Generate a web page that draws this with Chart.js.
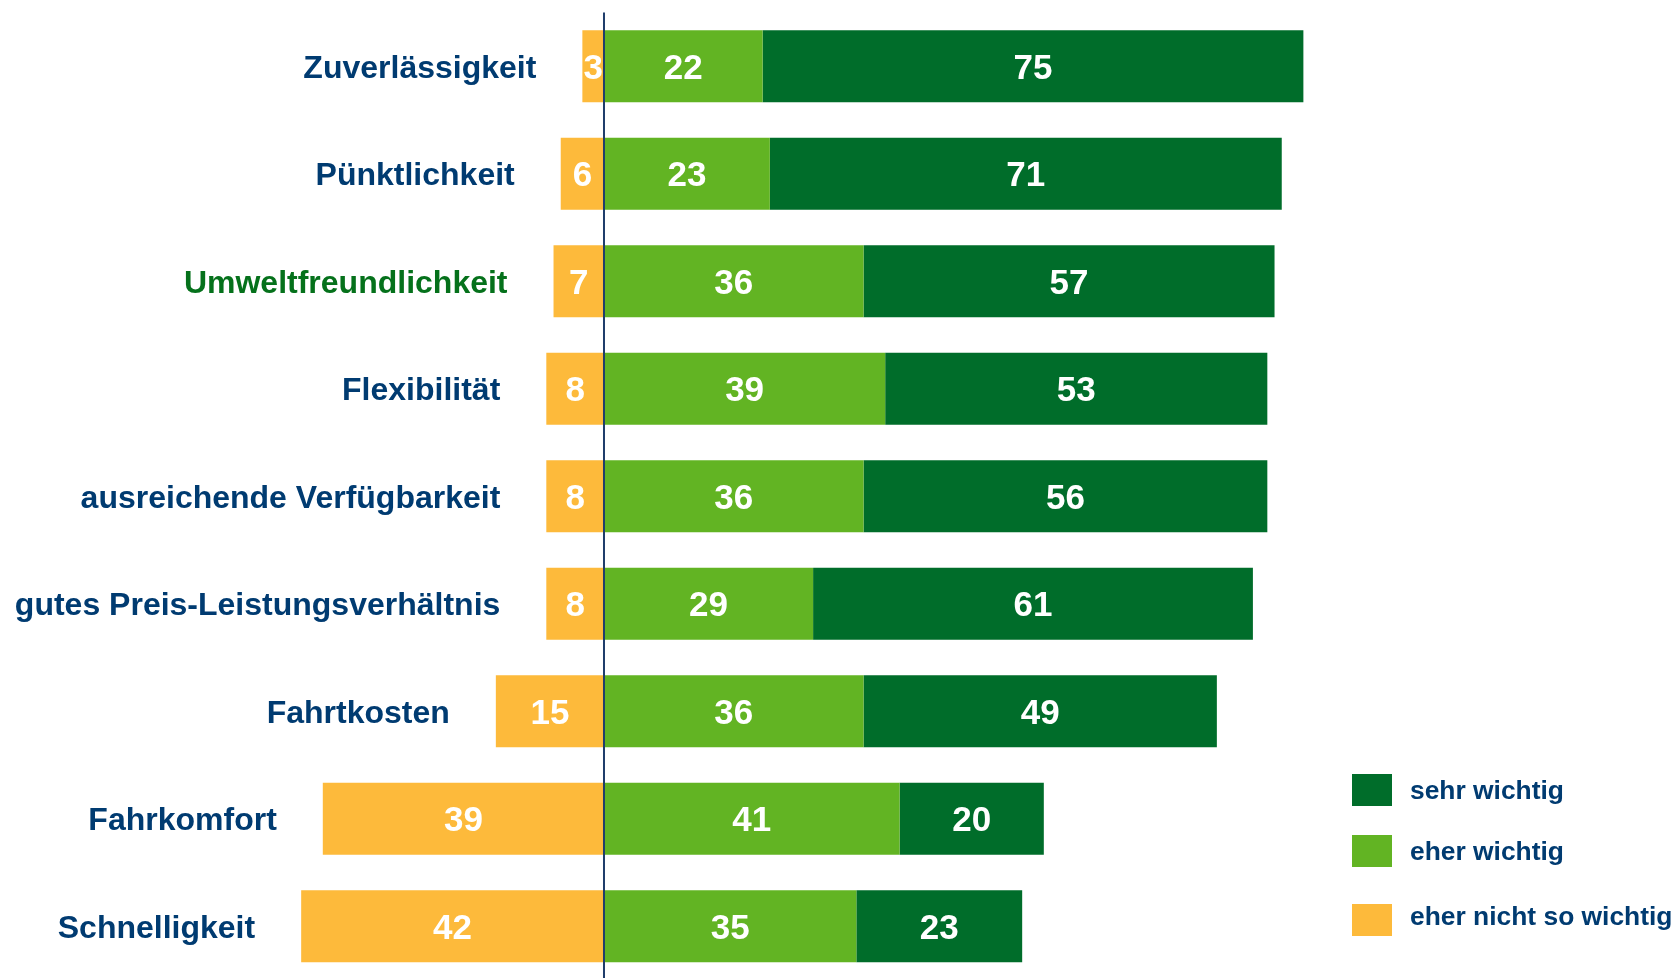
<!DOCTYPE html>
<html><head><meta charset="utf-8">
<script src="https://cdn.jsdelivr.net/npm/chart.js@4.4.0/dist/chart.umd.min.js"></script>
<style>html,body{margin:0;padding:0;background:#fff;overflow:hidden}canvas{display:block}</style>
</head><body>
<canvas id="c" width="1676" height="980"></canvas>
<script>
// ---- data ----
const categories = ['Zuverlässigkeit','Pünktlichkeit','Umweltfreundlichkeit','Flexibilität','ausreichende Verfügbarkeit','gutes Preis-Leistungsverhältnis','Fahrtkosten','Fahrkomfort','Schnelligkeit'];
const sehrWichtig = [75, 71, 57, 53, 56, 61, 49, 20, 23];
const eherWichtig = [22, 23, 36, 39, 36, 29, 36, 41, 35];
const eherNichtSoWichtig = [3, 6, 7, 8, 8, 8, 15, 39, 42];
const seriesLabels = ['sehr wichtig', 'eher wichtig', 'eher nicht so wichtig'];
const highlightCategory = 'Umweltfreundlichkeit';

// ---- styles ----
const C_DARK = '#006D2A', C_LIGHT = '#62B423', C_ORANGE = '#FDBA3B';
const C_NAVY = '#003B71', C_HIGHLIGHT = '#05711B', C_AXIS = '#1F3D6B';
const FONT = '"Liberation Sans", Arial, Helvetica, sans-serif';

const datasets = [
  { label: seriesLabels[2], data: eherNichtSoWichtig.map(v => -v), raw: eherNichtSoWichtig, backgroundColor: C_ORANGE },
  { label: seriesLabels[1], data: eherWichtig, raw: eherWichtig, backgroundColor: C_LIGHT },
  { label: seriesLabels[0], data: sehrWichtig, raw: sehrWichtig, backgroundColor: C_DARK }
];
datasets.forEach(d => { d.barPercentage = 0.67; d.categoryPercentage = 1; d.borderWidth = 0; });

const overlay = {
  id: 'overlay',
  afterDatasetsDraw(chart) {
    const ctx = chart.ctx, xs = chart.scales.x, area = chart.chartArea;
    ctx.save();
    // zero axis line
    const x0 = xs.getPixelForValue(0);
    ctx.strokeStyle = C_AXIS; ctx.lineWidth = 2;
    ctx.beginPath(); ctx.moveTo(x0, area.top); ctx.lineTo(x0, chart.height); ctx.stroke();

    // value labels
    ctx.fillStyle = '#fff'; ctx.textAlign = 'center'; ctx.textBaseline = 'alphabetic';
    ctx.font = 'bold 35px ' + FONT;
    chart.data.datasets.forEach((ds, di) => {
      const meta = chart.getDatasetMeta(di);
      meta.data.forEach((el, i) => {
        const cx = (el.x + el.base) / 2;
        ctx.fillText(String(ds.raw[i]), cx, el.y + 0.358 * 35);
      });
    });

    // category labels, right-aligned next to bar start
    ctx.textAlign = 'right';
    ctx.font = 'bold 32px ' + FONT;
    const meta0 = chart.getDatasetMeta(0);
    categories.forEach((cat, i) => {
      const left = xs.getPixelForValue(-eherNichtSoWichtig[i]);
      ctx.fillStyle = cat === highlightCategory ? C_HIGHLIGHT : C_NAVY;
      ctx.fillText(cat, left - 46, meta0.data[i].y + 0.358 * 32);
    });

    // legend
    const order = [2, 1, 0];
    const tops = [774, 835, 904];
    const textCenters = [790, 851, 916];
    ctx.textAlign = 'left';
    ctx.font = 'bold 26.4px ' + FONT;
    order.forEach((di, k) => {
      const ds = chart.data.datasets[di];
      ctx.fillStyle = ds.backgroundColor;
      ctx.fillRect(1352, tops[k], 40, 32);
      ctx.fillStyle = C_NAVY;
      ctx.fillText(ds.label, 1410, textCenters[k] + 0.358 * 26.4);
    });
    ctx.restore();
  }
};

new Chart(document.getElementById('c'), {
  type: 'bar',
  data: { labels: categories, datasets },
  options: {
    indexAxis: 'y',
    responsive: false,
    animation: false,
    events: [],
    layout: { padding: { top: 12.5, left: 0, right: 0, bottom: 0 } },
    plugins: { legend: { display: false }, tooltip: { enabled: false } },
    scales: {
      x: { type: 'linear', stacked: true, min: -83.77, max: 148.68, display: false },
      y: { type: 'category', stacked: true, display: false, offset: true }
    }
  },
  plugins: [overlay]
});
</script>
</body></html>
